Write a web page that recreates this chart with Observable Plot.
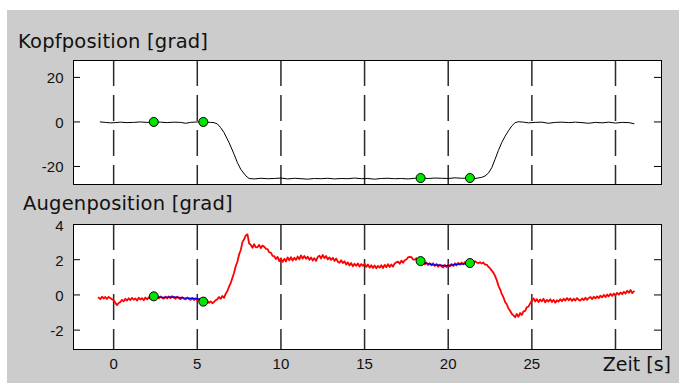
<!DOCTYPE html>
<html><head><meta charset="utf-8">
<script src="https://cdn.jsdelivr.net/npm/d3@7"></script>
<script src="https://cdn.jsdelivr.net/npm/@observablehq/plot@0.6"></script>
<style>
body{margin:0;background:#fff;}
#wrap{position:relative;width:679px;height:383px;overflow:hidden;background:#fff;}
#bg{position:absolute;left:7px;top:10px;width:672px;height:373px;background:#cccccc;}
.txt{position:absolute;font-family:"DejaVu Sans";color:#111;white-space:nowrap;line-height:1;}
.plot{position:absolute;left:0;}
</style></head><body>
<div id="wrap">
<div id="bg"></div>
<div class="txt" style="left:18px;top:32px;font-size:19.5px;letter-spacing:0.2px;">Kopfposition [grad]</div>
<div class="txt" style="left:23px;top:194px;font-size:19.5px;letter-spacing:0.2px;">Augenposition [grad]</div>
<div class="txt" style="right:8px;top:355px;font-size:19px;">Zeit [s]</div>
<div class="plot" id="p1" style="top:50px"></div>
<div class="plot" id="p2" style="top:214px"></div>
</div>
<script>
// ---- data ----
const xGridTicks = [0, 5, 10, 15, 20, 25, 30];
const xTickLabels = [0, 5, 10, 15, 20, 25];
const headYTicks = [20, 0, -20];
const eyeYTicks = [4, 2, 0, -2];
const eyeRightTicks = [2, 0, -2];

// head position (black)
const headTime = [-0.8,-0.5,-0.2,0.1,0.4,0.8,1.2,1.6,2.0,2.4,2.8,3.2,3.6,4.0,4.3,4.6,5.0,5.4,5.8,6.0,6.2,6.4,6.6,6.9,7.2,7.4,7.6,7.9,8.1,8.4,8.8,9.2,9.6,10.0,10.4,10.8,11.2,11.6,12.0,12.4,12.8,13.2,13.6,14.0,14.4,14.8,15.2,15.6,16.0,16.4,16.8,17.2,17.6,18.0,18.4,18.8,19.2,19.6,20.0,20.4,20.8,21.2,21.6,22.0,22.2,22.4,22.6,22.8,23.0,23.2,23.4,23.6,23.8,24.0,24.2,24.5,24.8,25.2,25.6,26.0,26.4,26.8,27.2,27.6,28.0,28.4,28.8,29.2,29.6,30.0,30.4,30.8,31.1];
const headValue = [0.0,-0.2,-0.4,-0.3,-0.1,-0.3,-0.2,0.0,-0.2,0.0,-0.1,-0.3,-0.1,-0.2,-0.6,-0.2,0.0,-0.1,-0.2,-0.3,-0.9,-2.6,-4.8,-9.3,-14.5,-18.3,-21.3,-24.2,-25.4,-25.6,-25.3,-25.5,-25.4,-25.2,-25.6,-25.3,-25.5,-25.7,-25.4,-25.5,-25.3,-25.6,-25.4,-25.5,-25.2,-25.5,-25.4,-25.7,-25.4,-25.3,-25.5,-25.4,-25.6,-25.3,-25.2,-25.4,-25.2,-25.3,-25.4,-25.1,-25.3,-25.2,-25.4,-24.9,-24.3,-23.0,-20.6,-16.8,-12.8,-9.3,-6.4,-4.0,-1.8,-0.3,0.1,-0.1,-0.4,-0.2,-0.1,-0.6,-0.2,-0.1,-0.3,-0.1,-0.3,-0.6,-0.2,-0.4,-0.1,-0.5,-0.2,-0.3,-0.8];

// eye position (red), sampled every 0.1 s starting at -0.9 s
const eyeStart = -0.9;
const eyeStep = 0.1;
const eyeValue = [
-0.15,-0.24,-0.10,-0.20,-0.12,-0.23,-0.11,-0.18,-0.24,
-0.30,-0.45,-0.58,-0.46,-0.40,-0.28,-0.36,-0.22,-0.32,-0.19,
-0.29,-0.17,-0.27,-0.20,-0.32,-0.16,-0.26,-0.18,-0.30,-0.15,
-0.25,-0.13,-0.23,-0.10,-0.06,-0.16,-0.08,-0.19,-0.09,-0.17,
-0.21,-0.10,-0.20,-0.08,-0.18,-0.07,-0.16,-0.22,-0.10,-0.19,
-0.24,-0.13,-0.21,-0.26,-0.15,-0.23,-0.28,-0.17,-0.29,-0.20,
-0.32,-0.24,-0.36,-0.40,-0.30,-0.42,-0.34,-0.45,-0.37,-0.47,
-0.40,-0.30,-0.24,-0.12,-0.22,-0.06,-0.17,0.07,0.22,0.47,
0.68,0.98,1.26,1.64,1.90,2.30,2.55,3.00,3.16,3.38,
3.44,2.92,2.84,2.68,2.88,2.70,2.72,2.84,2.66,2.80,
2.74,2.62,2.60,2.42,2.40,2.22,2.20,2.04,2.16,1.92,
2.08,1.88,2.05,1.90,2.13,1.97,2.15,1.95,2.11,1.99,
2.18,2.02,2.25,2.07,2.21,2.05,2.17,1.99,2.13,1.95,
2.09,1.93,2.15,2.23,2.07,2.27,2.09,2.21,2.02,2.13,
1.99,2.11,1.93,2.07,1.89,1.83,1.97,1.81,1.91,1.73,
1.85,1.67,1.81,1.63,1.77,1.65,1.79,1.61,1.75,1.65,
1.77,1.59,1.73,1.55,1.69,1.53,1.67,1.51,1.65,1.55,
1.69,1.53,1.71,1.57,1.75,1.59,1.73,1.61,1.79,1.85,
1.89,1.77,1.95,1.83,1.97,2.01,2.13,2.16,2.15,2.01,
2.00,2.08,1.92,1.92,1.80,1.90,1.74,1.84,1.70,1.80,
1.68,1.80,1.64,1.76,1.60,1.72,1.62,1.56,1.70,1.58,
1.72,1.62,1.76,1.64,1.80,1.68,1.82,1.72,1.84,1.74,
1.86,1.76,1.88,1.78,1.90,1.82,1.92,1.84,1.80,1.86,
1.78,1.84,1.72,1.72,1.60,1.52,1.38,1.27,1.08,0.84,
0.53,0.32,0.06,-0.13,-0.40,-0.53,-0.77,-0.90,-1.07,-1.16,
-1.27,-1.08,-1.24,-1.03,-1.14,-0.93,-0.90,-0.70,-0.67,-0.48,
-0.32,-0.20,-0.37,-0.24,-0.40,-0.26,-0.36,-0.22,-0.42,-0.28,
-0.38,-0.24,-0.40,-0.28,-0.44,-0.30,-0.38,-0.24,-0.36,-0.22,
-0.32,-0.18,-0.30,-0.20,-0.34,-0.22,-0.32,-0.18,-0.28,-0.32,
-0.20,-0.30,-0.16,-0.28,-0.18,-0.12,-0.24,-0.10,-0.20,-0.08,
-0.18,-0.04,-0.14,0.00,-0.12,0.02,-0.08,0.06,-0.06,0.08,
-0.02,0.12,0.02,0.14,0.04,0.18,0.08,0.24,0.12,0.28,
0.10,0.20
];

// blue fitted segments
const blueTime =  [2.4, 3.0, 3.6, 4.2, 4.8, 5.3, 18.35, 19.1, 19.9, 20.7, 21.2];
const blueValue = [-0.10, -0.14, -0.12, -0.18, -0.20, -0.24, 1.86, 1.72, 1.66, 1.75, 1.77];
const blueSeg =   ["a","a","a","a","a","a","b","b","b","b","b"];

// green markers
const markTime = [2.4, 5.36, 18.35, 21.3];
const markHead = [0, 0, -25.2, -25.2];
const markEye = [-0.08, -0.38, 1.92, 1.81];

// ---- build tables ----
const head = headTime.map((t, i) => ({t, v: headValue[i]}));
const eye = eyeValue.map((v, i) => ({t: eyeStart + i * eyeStep, v}));
const blue = blueTime.map((t, i) => ({t, v: blueValue[i], s: blueSeg[i]}));
const headMarks = markTime.map((t, i) => ({t, v: markHead[i]}));
const eyeMarks = markTime.map((t, i) => ({t, v: markEye[i]}));

const W = 679, ML = 73, MR = 18;
const innerW = W - ML - MR;
const xDomain = [-2.4, 32.75];
const tickLen = 7;
const green = "#00e400";

function common(yTicks, rightTicks) {
  return [
    Plot.frame({fill: "white", stroke: null}),
    Plot.ruleX(xGridTicks, {stroke: "#2a2a2a", strokeWidth: 1.5, strokeDasharray: "26,9"}),
    Plot.ruleY(yTicks, {stroke: "#000", insetRight: innerW - tickLen}),
    Plot.ruleY(rightTicks, {stroke: "#000", insetLeft: innerW - tickLen})
  ];
}

const style = {background: "transparent", fontFamily: "Liberation Sans, Arial, sans-serif", fontSize: "15px", color: "#111"};

const p1 = Plot.plot({
  width: W, height: 140,
  marginLeft: ML, marginRight: MR, marginTop: 10, marginBottom: 6,
  style,
  x: {domain: xDomain, axis: null},
  y: {domain: [-28.1, 27.6], axis: null},
  marks: [
    ...common(headYTicks, headYTicks),
    Plot.axisY(headYTicks, {tickSize: 0, tickPadding: 10, dy: 1, tickFormat: d => String(d), label: null}),
    Plot.line(head, {x: "t", y: "v", stroke: "#000", strokeWidth: 1}),
    Plot.dot(headMarks, {x: "t", y: "v", r: 4.5, fill: green, stroke: "#000", strokeWidth: 1}),
    Plot.frame({stroke: "#000"})
  ]
});
document.getElementById("p1").appendChild(p1);

const p2 = Plot.plot({
  width: W, height: 169,
  marginLeft: ML, marginRight: MR, marginTop: 10, marginBottom: 34,
  style,
  x: {domain: xDomain, axis: null},
  y: {domain: [-3.1, 4], axis: null},
  marks: [
    ...common(eyeYTicks, eyeRightTicks),
    Plot.axisY(eyeYTicks, {tickSize: 0, tickPadding: 10, dy: 1.5, tickFormat: d => String(d), label: null}),
    Plot.axisX(xTickLabels, {tickSize: 0, tickPadding: 9, tickFormat: d => String(d), label: null}),
    Plot.line(eye, {x: "t", y: "v", stroke: "#ff0000", strokeWidth: 1.8}),
    Plot.line(blue, {x: "t", y: "v", z: "s", stroke: "#0000ff", strokeWidth: 1.5}),
    Plot.dot(eyeMarks, {x: "t", y: "v", r: 4.5, fill: green, stroke: "#000", strokeWidth: 1}),
    Plot.frame({stroke: "#000"})
  ]
});
document.getElementById("p2").appendChild(p2);
</script>
</body></html>
